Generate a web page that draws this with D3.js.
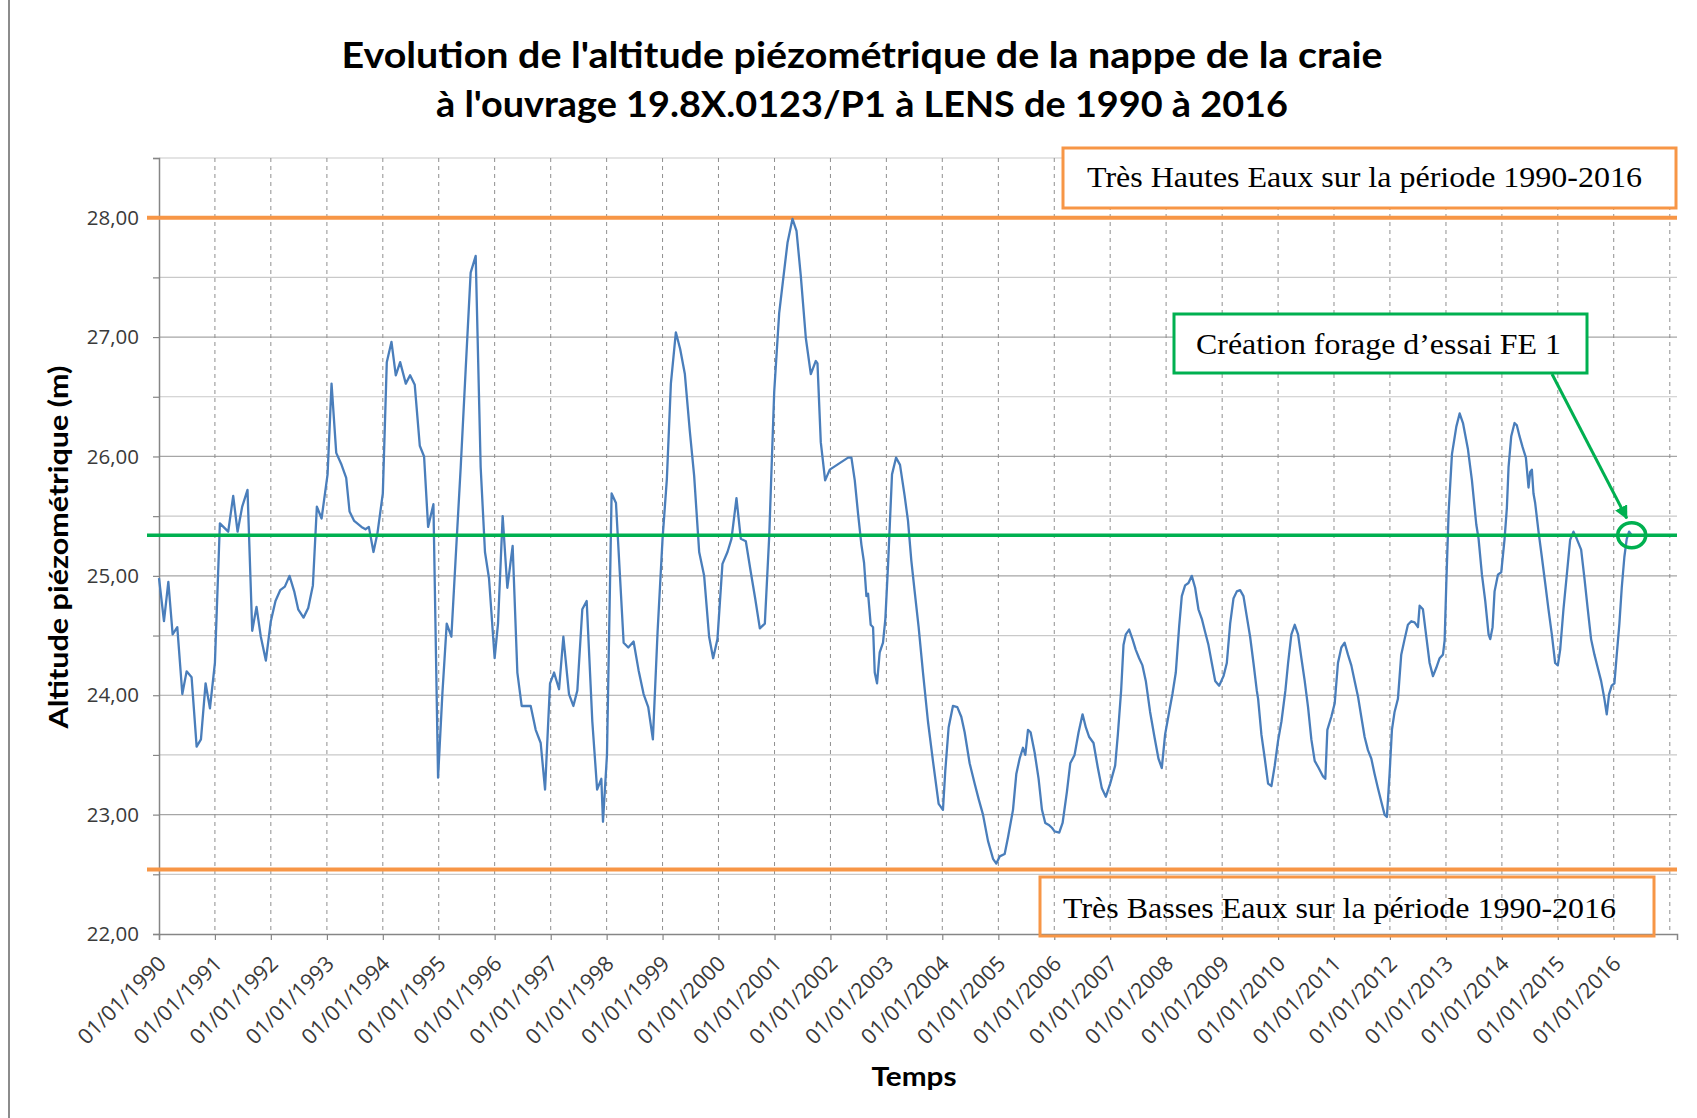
<!DOCTYPE html>
<html>
<head>
<meta charset="utf-8">
<script src="https://cdn.jsdelivr.net/npm/d3@7/dist/d3.min.js"></script>
<style>
  html, body { margin: 0; padding: 0; background: #ffffff; }
  svg { display: block; }
</style>
</head>
<body>
<svg id="chart" width="1697" height="1118"></svg>
<script>
// Piezometric level of the chalk aquifer, well 19.8X.0123/P1 (Lens), 1990-2016
// Dates are given as decimal years, levels in metres.
const decimalYear = [
  1990.000,1990.089,1990.167,1990.244,1990.327,1990.417,1990.494,1990.583,1990.673,1990.750,1990.833,1990.911,
  1991.000,1991.089,1991.238,1991.327,1991.405,1991.488,1991.583,1991.667,1991.744,1991.821,1991.911,
  1992.000,1992.083,1992.167,1992.250,1992.333,1992.417,1992.488,1992.583,1992.667,1992.750,1992.821,1992.905,
  1993.012,1993.083,1993.167,1993.262,1993.345,1993.405,1993.488,1993.619,1993.690,1993.750,1993.833,1993.905,
  1994.000,1994.071,1994.155,1994.232,1994.310,1994.411,1994.488,1994.571,1994.661,1994.738,1994.810,1994.905,1994.988,
  1995.065,1995.143,1995.226,1995.304,1995.393,1995.482,1995.571,1995.661,1995.750,1995.827,1995.899,
  1996.000,1996.060,1996.143,1996.226,1996.321,1996.405,1996.482,1996.643,1996.732,1996.821,1996.899,1996.988,
  1997.060,1997.149,1997.226,1997.327,1997.405,1997.476,1997.565,1997.643,1997.744,1997.830,1997.905,1997.935,
  1998.006,1998.089,1998.167,1998.304,1998.387,1998.482,1998.571,1998.661,1998.744,1998.827,1998.911,
  1999.000,1999.077,1999.149,1999.238,1999.315,1999.399,1999.488,1999.565,1999.655,1999.744,1999.833,1999.905,1999.982,
  2000.071,2000.161,2000.232,2000.321,2000.399,2000.488,2000.577,2000.655,2000.738,2000.827,2000.905,2000.994,
  2001.083,2001.161,2001.232,2001.321,2001.393,2001.470,2001.560,2001.649,2001.738,2001.768,2001.827,2001.905,2001.988,
  2002.315,2002.375,2002.435,2002.494,2002.554,2002.601,2002.643,2002.673,2002.720,2002.762,2002.792,2002.833,2002.881,2002.940,2002.982,
  2003.030,2003.101,2003.173,2003.244,2003.327,2003.387,2003.446,2003.506,2003.577,2003.655,2003.744,2003.833,2003.935,
  2004.012,2004.054,2004.113,2004.190,2004.268,2004.339,2004.399,2004.488,2004.577,2004.649,2004.726,2004.815,2004.905,2004.964,
  2005.024,2005.113,2005.173,2005.262,2005.321,2005.381,2005.440,2005.482,2005.530,2005.577,2005.649,2005.720,2005.780,2005.839,2005.911,2005.958,
  2006.006,2006.089,2006.149,2006.226,2006.286,2006.363,2006.435,2006.506,2006.565,2006.625,2006.702,2006.780,2006.851,2006.923,
  2007.000,2007.089,2007.137,2007.196,2007.238,2007.280,2007.339,2007.399,2007.458,2007.518,2007.577,2007.637,2007.714,2007.792,2007.863,2007.923,2007.982,
  2008.054,2008.113,2008.173,2008.232,2008.280,2008.339,2008.399,2008.458,2008.518,2008.577,2008.637,2008.696,2008.756,2008.815,2008.875,2008.946,
  2009.024,2009.083,2009.143,2009.202,2009.262,2009.321,2009.381,2009.440,2009.500,2009.560,2009.619,2009.643,2009.702,2009.762,2009.821,2009.881,2009.940,
  2010.000,2010.060,2010.131,2010.179,2010.238,2010.298,2010.357,2010.417,2010.476,2010.536,2010.595,2010.655,2010.726,2010.804,2010.845,2010.881,2010.952,
  2011.012,2011.071,2011.131,2011.190,2011.250,2011.310,2011.369,2011.429,2011.488,2011.548,2011.607,2011.667,2011.726,2011.786,2011.845,2011.905,2011.946,2011.994,
  2012.036,2012.083,2012.143,2012.202,2012.262,2012.321,2012.381,2012.440,2012.500,2012.530,2012.589,2012.649,2012.708,2012.768,2012.827,2012.887,2012.946,2012.976,
  2013.006,2013.048,2013.107,2013.185,2013.244,2013.304,2013.393,2013.464,2013.542,2013.583,2013.643,2013.702,2013.762,2013.792,2013.833,2013.869,2013.929,2013.988,
  2014.048,2014.089,2014.119,2014.167,2014.226,2014.268,2014.315,2014.369,2014.429,2014.476,2014.506,2014.536,2014.565,2014.595,2014.655,2014.714,2014.774,2014.833,2014.893,2014.952,
  2015.000,2015.042,2015.101,2015.161,2015.220,2015.280,2015.339,2015.417,2015.476,2015.536,2015.595,2015.655,2015.714,2015.774,2015.833,2015.875,2015.917,2015.964,
  2016.012,2016.054,2016.101,2016.143,2016.190,2016.232,2016.274,2016.321
];

const altitude = [
  24.98,24.62,24.95,24.51,24.57,24.01,24.20,24.15,23.57,23.63,24.10,23.89,
  24.27,25.44,25.37,25.67,25.37,25.58,25.72,24.54,24.74,24.49,24.29,
  24.62,24.79,24.88,24.91,25.00,24.87,24.72,24.65,24.73,24.92,25.58,25.48,
  25.85,26.61,26.03,25.93,25.82,25.54,25.46,25.41,25.39,25.41,25.20,25.36,
  25.69,26.79,26.96,26.68,26.79,26.61,26.68,26.60,26.09,26.00,25.41,25.60,23.31,
  24.01,24.60,24.49,25.16,25.91,26.73,27.54,27.68,25.91,25.20,24.98,
  24.31,24.60,25.50,24.90,25.25,24.19,23.91,23.91,23.71,23.60,23.21,24.10,
  24.19,24.05,24.49,24.01,23.91,24.04,24.72,24.79,23.78,23.21,23.30,22.94,
  23.50,25.69,25.61,24.44,24.40,24.45,24.21,24.01,23.90,23.63,24.53,
  25.31,25.81,26.61,27.04,26.90,26.69,26.21,25.84,25.20,25.00,24.49,24.31,24.47,
  25.10,25.20,25.31,25.65,25.31,25.29,25.03,24.81,24.56,24.60,25.33,26.54,
  27.20,27.51,27.79,27.99,27.89,27.51,26.99,26.69,26.80,26.78,26.12,25.80,25.89,
  25.99,25.99,25.80,25.52,25.26,25.11,24.83,24.85,24.59,24.57,24.19,24.10,24.36,24.44,24.64,
  25.09,25.85,25.99,25.93,25.67,25.46,25.13,24.87,24.57,24.19,23.78,23.45,23.09,
  23.04,23.37,23.73,23.91,23.90,23.82,23.69,23.43,23.26,23.13,23.00,22.78,22.63,22.59,
  22.65,22.67,22.81,23.04,23.34,23.47,23.56,23.50,23.71,23.69,23.52,23.30,23.04,22.93,22.91,22.89,
  22.86,22.85,22.93,23.19,23.43,23.50,23.69,23.84,23.73,23.65,23.60,23.39,23.22,23.15,
  23.26,23.41,23.67,24.04,24.42,24.51,24.55,24.47,24.38,24.31,24.25,24.12,23.86,23.65,23.47,23.39,23.67,
  23.86,24.01,24.19,24.57,24.83,24.92,24.94,25.00,24.90,24.72,24.64,24.53,24.42,24.27,24.12,24.08,
  24.16,24.27,24.60,24.81,24.87,24.88,24.83,24.66,24.49,24.27,24.04,23.97,23.67,23.47,23.26,23.24,23.41,
  23.62,23.78,24.04,24.27,24.51,24.59,24.51,24.31,24.12,23.90,23.63,23.45,23.39,23.32,23.30,23.71,23.82,
  23.93,24.27,24.40,24.44,24.34,24.25,24.12,23.99,23.82,23.65,23.54,23.47,23.34,23.22,23.11,23.00,22.98,23.34,
  23.71,23.86,23.97,24.34,24.47,24.59,24.62,24.61,24.57,24.75,24.72,24.49,24.27,24.16,24.23,24.31,24.34,24.46,
  24.94,25.54,26.02,26.25,26.36,26.28,26.06,25.80,25.43,25.31,25.01,24.79,24.51,24.47,24.57,24.87,25.01,25.03,
  25.31,25.57,25.91,26.17,26.28,26.26,26.17,26.08,25.99,25.74,25.87,25.89,25.69,25.61,25.37,25.16,24.94,24.72,24.51,24.27,
  24.25,24.38,24.72,25.01,25.30,25.37,25.31,25.22,24.98,24.72,24.47,24.34,24.23,24.12,23.97,23.84,24.01,24.08,
  24.10,24.34,24.60,24.90,25.16,25.31,25.37,25.34
];

// Reference levels (m)
const veryHighWater = 28.00;   // Très Hautes Eaux 1990-2016
const veryLowWater = 22.54;    // Très Basses Eaux 1990-2016
const boreholeLevel = 25.34;   // level when test borehole FE 1 was drilled

// Axis ticks and labels
const yMajorTicks = [22, 23, 24, 25, 26, 27, 28];
const yMinorTicks = [22.5, 23, 23.5, 24, 24.5, 25, 25.5, 26, 26.5, 27, 27.5, 28, 28.5];
const yearTicks = d3.range(1990, 2017);
const yearGrid = d3.range(1991, 2018);

const titleLines = [
  "Evolution de l'altitude piézométrique de la nappe de la craie",
  "à l'ouvrage 19.8X.0123/P1 à LENS de 1990 à 2016"
];
const yAxisTitle = "Altitude piézométrique (m)";
const xAxisTitle = "Temps";
const highLabel = "Très Hautes Eaux sur la période 1990-2016";
const lowLabel = "Très Basses Eaux sur la période 1990-2016";
const boreholeLabel = "Création forage d’essai FE 1";

// ---------------------------------------------------------------
const colors = {
  series: "#4a7ebb",
  orange: "#f79646",
  green: "#00b050",
  axis: "#868686",
  gridMajor: "#a6a6a6",
  gridMinor: "#c9c9c9",
  gridV: "#8f8f8f",
  text: "#3a3a3a"
};

function toDate(y) {
  const yr = Math.floor(y);
  const a = new Date(yr, 0, 1).getTime();
  const b = new Date(yr + 1, 0, 1).getTime();
  return new Date(a + (y - yr) * (b - a));
}

const data = decimalYear.map((t, i) => ({ date: toDate(t), value: altitude[i] }));

const plot = { left: 159, right: 1677, top: 158, bottom: 934 };

const x = d3.scaleTime()
  .domain([new Date(1990, 0, 1), new Date(2017, 1, 17)])
  .range([plot.left, plot.right]);

const y = d3.scaleLinear()
  .domain([22, 28.5])
  .range([plot.bottom, plot.top]);

const svg = d3.select("#chart");

svg.append("rect").attr("width", 1697).attr("height", 1118).attr("fill", "#ffffff");

// outer chart frame (left edge)
svg.append("line")
  .attr("x1", 9).attr("x2", 9).attr("y1", 0).attr("y2", 1118)
  .attr("stroke", "#8c8c8c").attr("stroke-width", 2);

// horizontal gridlines every 0.5 m
svg.append("g").selectAll("line")
  .data(yMinorTicks)
  .join("line")
  .attr("x1", plot.left).attr("x2", plot.right)
  .attr("y1", d => y(d)).attr("y2", d => y(d))
  .attr("stroke", d => Number.isInteger(d) ? colors.gridMajor : colors.gridMinor)
  .attr("stroke-width", 1.2);

// vertical dashed gridlines, one per year
svg.append("g").selectAll("line")
  .data(yearGrid)
  .join("line")
  .attr("x1", d => x(new Date(d, 0, 1))).attr("x2", d => x(new Date(d, 0, 1)))
  .attr("y1", plot.top).attr("y2", plot.bottom)
  .attr("stroke", colors.gridV)
  .attr("stroke-width", 1)
  .attr("stroke-dasharray", "4,4");

// y axis
const yAxis = d3.axisLeft(y)
  .tickValues(yMinorTicks.concat([22]))
  .tickSize(6)
  .tickFormat(d => Number.isInteger(d) ? d3.format(".2f")(d).replace(".", ",") : "");
const gy = svg.append("g")
  .attr("transform", `translate(${plot.left},0)`)
  .call(yAxis);
gy.select(".domain").attr("stroke", colors.axis).attr("stroke-width", 1.5);
gy.selectAll(".tick line").attr("stroke", colors.axis).attr("stroke-width", 1.2);
gy.selectAll(".tick text")
  .attr("x", -20)
  .attr("fill", colors.text)
  .style("font-family", "'Open Sans', sans-serif")
  .style("font-size", "20.5px");

// x axis
const xAxis = d3.axisBottom(x)
  .tickValues(yearTicks.map(t => new Date(t, 0, 1)))
  .tickSize(6)
  .tickFormat(d3.timeFormat("%d/%m/%Y"));
const gx = svg.append("g")
  .attr("transform", `translate(0,${plot.bottom})`)
  .call(xAxis);
gx.select(".domain").attr("stroke", colors.axis).attr("stroke-width", 1.5);
gx.selectAll(".tick line").attr("stroke", colors.axis).attr("stroke-width", 1.2);
gx.selectAll(".tick text")
  .attr("fill", colors.text)
  .attr("text-anchor", "end")
  .attr("dy", null)
  .attr("y", 0)
  .attr("transform", "translate(8,31) rotate(-45)")
  .style("font-family", "'Open Sans', sans-serif")
  .style("font-size", "21.5px");

// reference lines
const refLine = (val, color, width) => svg.append("line")
  .attr("x1", plot.left - 12).attr("x2", plot.right)
  .attr("y1", y(val)).attr("y2", y(val))
  .attr("stroke", color).attr("stroke-width", width);

refLine(veryHighWater, colors.orange, 4);
refLine(veryLowWater, colors.orange, 4);

// series
const line = d3.line()
  .x(d => x(d.date))
  .y(d => y(d.value));

svg.append("path")
  .datum(data)
  .attr("fill", "none")
  .attr("stroke", colors.series)
  .attr("stroke-width", 2.3)
  .attr("stroke-linejoin", "round")
  .attr("d", line);

refLine(boreholeLevel, colors.green, 3.5);

// annotation boxes
function labelBox(x0, y0, x1, y1, stroke, fill, text, textX, baseline, textLen) {
  svg.append("rect")
    .attr("x", x0).attr("y", y0)
    .attr("width", x1 - x0).attr("height", y1 - y0)
    .attr("fill", fill)
    .attr("stroke", stroke)
    .attr("stroke-width", 3);
  svg.append("text")
    .attr("x", textX).attr("y", baseline)
    .attr("textLength", textLen)
    .attr("lengthAdjust", "spacingAndGlyphs")
    .style("font-family", "'Liberation Serif', 'Times New Roman', serif")
    .style("font-size", "29px")
    .attr("fill", "#000000")
    .text(text);
}

labelBox(1063, 148, 1676, 208, colors.orange, "#ffffff", highLabel, 1087, 187, 555);
labelBox(1040, 877, 1654, 936, colors.orange, "none", lowLabel, 1063, 918, 553);
labelBox(1174, 314, 1587, 373, colors.green, "#ffffff", boreholeLabel, 1196, 354, 365);

// arrow + circle pointing at the last measurement
const last = data[data.length - 1];
const cx = x(last.date), cy = y(last.value);

svg.append("defs").append("marker")
  .attr("id", "arrowhead")
  .attr("viewBox", "0 0 10 10")
  .attr("refX", 9).attr("refY", 5)
  .attr("markerWidth", 4.5).attr("markerHeight", 4.5)
  .attr("orient", "auto")
  .attr("markerUnits", "strokeWidth")
  .append("path")
  .attr("d", "M0,0 L10,5 L0,10 Z")
  .attr("fill", colors.green);

svg.append("line")
  .attr("x1", 1552).attr("y1", 374)
  .attr("x2", cx - 5).attr("y2", cy - 17)
  .attr("stroke", colors.green)
  .attr("stroke-width", 3)
  .attr("marker-end", "url(#arrowhead)");

svg.append("ellipse")
  .attr("cx", cx).attr("cy", cy)
  .attr("rx", 14).attr("ry", 12.5)
  .attr("fill", "none")
  .attr("stroke", colors.green)
  .attr("stroke-width", 3.5);

// titles
const title = svg.append("text")
  .attr("text-anchor", "middle")
  .style("font-family", "Lato, 'Open Sans', sans-serif")
  .style("font-weight", "bold")
  .style("font-size", "37px")
  .attr("fill", "#000000");
title.append("tspan").attr("x", 862).attr("y", 68)
  .attr("textLength", 1041).attr("lengthAdjust", "spacingAndGlyphs").text(titleLines[0]);
title.append("tspan").attr("x", 862).attr("y", 117)
  .attr("textLength", 852).attr("lengthAdjust", "spacingAndGlyphs").text(titleLines[1]);

svg.append("text")
  .attr("transform", "translate(68,547) rotate(-90)")
  .attr("text-anchor", "middle")
  .attr("textLength", 363)
  .attr("lengthAdjust", "spacingAndGlyphs")
  .style("font-family", "Lato, 'Open Sans', sans-serif")
  .style("font-weight", "bold")
  .style("font-size", "27px")
  .attr("fill", "#000000")
  .text(yAxisTitle);

svg.append("text")
  .attr("x", 914).attr("y", 1086)
  .attr("text-anchor", "middle")
  .attr("textLength", 85)
  .attr("lengthAdjust", "spacingAndGlyphs")
  .style("font-family", "Lato, 'Open Sans', sans-serif")
  .style("font-weight", "bold")
  .style("font-size", "27px")
  .attr("fill", "#000000")
  .text(xAxisTitle);
</script>
</body>
</html>
